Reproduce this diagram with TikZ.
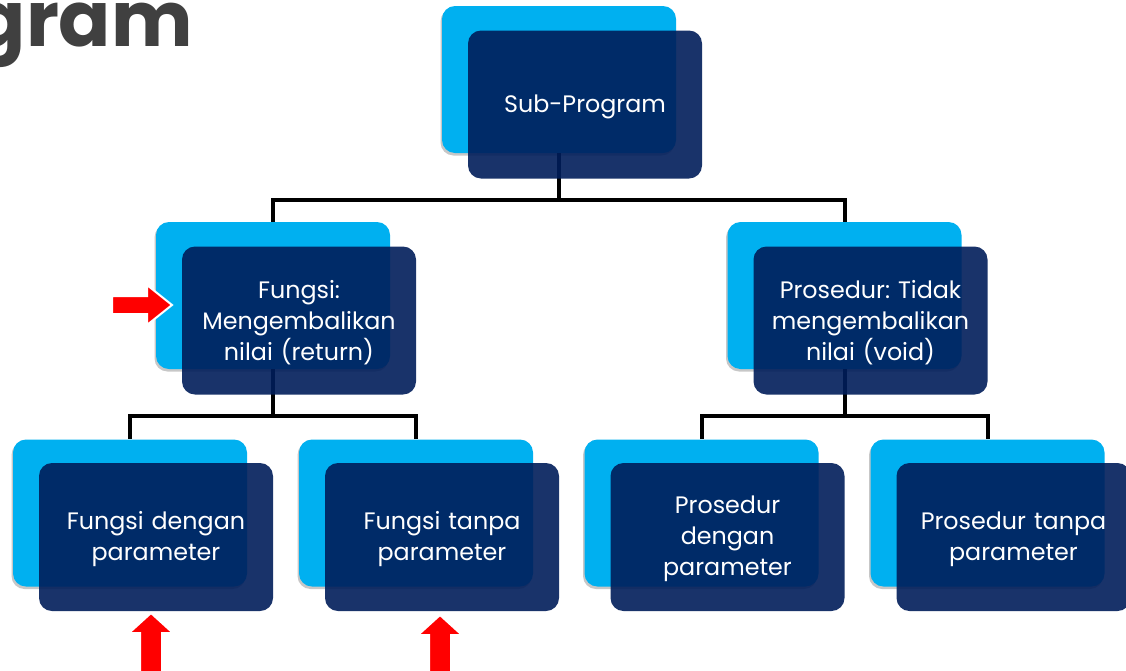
\documentclass[tikz,border=0pt]{standalone}
\usepackage{fontspec}
\setmainfont{Poppins}
\newfontfamily\titlefont{Poppins}
\frenchspacing
\usetikzlibrary{shadows,calc}
\definecolor{lightb}{RGB}{0,176,240}
\definecolor{navy}{RGB}{0,29,90}
\definecolor{titlegray}{RGB}{64,64,64}
\tikzset{
 lightbox/.style={fill=lightb, rounded corners=13pt, minimum width=234pt, minimum height=147pt, inner sep=0pt,
   drop shadow={shadow xshift=-1.5pt, shadow yshift=-2.5pt, opacity=0.22, fill=black}},
 darkbox/.style={fill=navy, fill opacity=0.9, rounded corners=13pt, minimum width=234pt,
   minimum height=148pt, inner sep=0pt},
 boxtext/.style={inner sep=0pt, text=white, font=\fontsize{23.8}{31}\selectfont, align=center, text width=226pt},
 conn/.style={line width=4pt, black},
 redarrow/.style={fill=red, draw=white, line width=2pt, line join=miter}
}
\begin{document}
\begin{tikzpicture}[x=1pt,y=-1pt]
\useasboundingbox (0,0) rectangle (1126,670);
\clip (0,0) rectangle (1126,670);
\fill[white] (0,0) rectangle (1126,670);
% title fragment
\node[font=\titlefont\bfseries\fontsize{77}{80}\selectfont, text=titlegray, anchor=base east, inner sep=0pt] (title) at (193,46) {gram};
% light boxes
\node[lightbox] (l0) at (559,79.5) {};
\node[lightbox] (l1) at (273,295.5) {};
\node[lightbox] (l2) at (844.5,295.5) {};
\node[lightbox] (l3) at (130,513) {};
\node[lightbox] (l4) at (416,513) {};
\node[lightbox] (l5) at (701.5,513) {};
\node[lightbox] (l6) at (987.5,513) {};
% connectors
\draw[conn] (l0.south) -- ++(0,47) -| (l1.north);
\draw[conn] (l0.south) -- ++(0,47) -| (l2.north);
\draw[conn] (l1.south) -- ++(0,47) -| (l3.north);
\draw[conn] (l1.south) -- ++(0,47) -| (l4.north);
\draw[conn] (l2.south) -- ++(0,47) -| (l5.north);
\draw[conn] (l2.south) -- ++(0,47) -| (l6.north);
% dark boxes
\node[darkbox] (d0) at (585,104.5) {};
\node[darkbox] (d1) at (299,320.5) {};
\node[darkbox] (d2) at (870.5,320.5) {};
\node[darkbox] (d3) at (156,537) {};
\node[darkbox] (d4) at (442,537) {};
\node[darkbox] (d5) at (727.5,537) {};
\node[darkbox] (d6) at (1013.5,537) {};
% texts
\node[boxtext] (t0) at ($(d0)+(0,2)$) {Sub-Program};
\node[boxtext] (t1) at ($(d1)+(0,2)$) {Fungsi:\\Mengembalikan\\nilai (return)};
\node[boxtext] (t2) at ($(d2)+(0,2)$) {Prosedur: Tidak\\mengembalikan\\nilai (void)};
\node[boxtext] (t3) at ($(d3)+(0,2.5)$) {Fungsi dengan\\parameter};
\node[boxtext] (t4) at ($(d4)+(0,2.5)$) {Fungsi tanpa\\parameter};
\node[boxtext] (t5) at ($(d5)+(0,2)$) {Prosedur\\dengan\\parameter};
\node[boxtext] (t6) at ($(d6)+(0,2.5)$) {Prosedur tanpa\\parameter};
% red arrows
\filldraw[redarrow] (112,296) -- (147,296) -- (147,285) -- (172,305) -- (147,325) -- (147,314) -- (112,314) -- cycle;
\filldraw[redarrow] (140,675) -- (140,633) -- (129,633) -- (151,613) -- (173,633) -- (162,633) -- (162,675) -- cycle;
\filldraw[redarrow] (429,675) -- (429,635) -- (418,635) -- (440,615) -- (462,635) -- (451,635) -- (451,675) -- cycle;
\end{tikzpicture}
\end{document}
